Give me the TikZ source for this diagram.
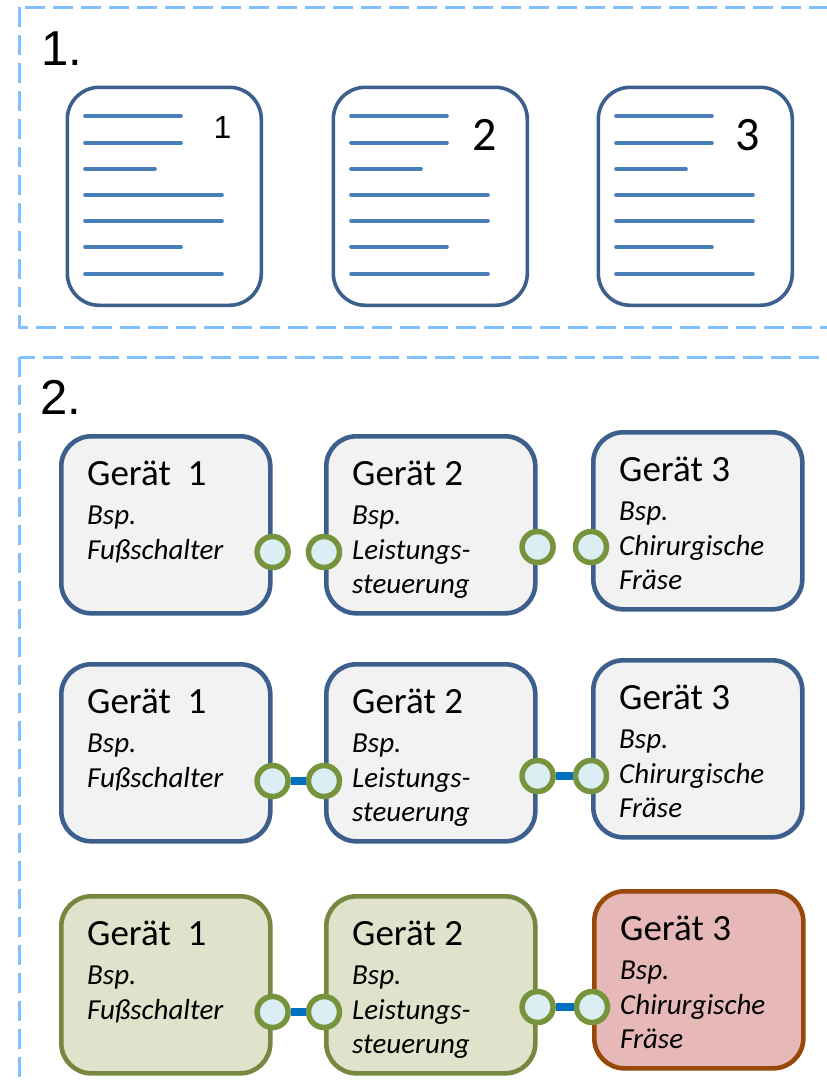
\documentclass[tikz,border=0pt]{standalone}
\usepackage{fontspec}
\setmainfont{Carlito}
\newfontfamily\headfont{Liberation Sans}

\definecolor{framedash}{RGB}{128,192,255}
\definecolor{boxblue}{RGB}{60,95,142}
\definecolor{lineblue}{RGB}{74,126,187}
\definecolor{greyfill}{RGB}{242,242,242}
\definecolor{portgreen}{RGB}{119,147,60}
\definecolor{portfill}{RGB}{218,238,243}
\definecolor{linkblue}{RGB}{0,112,192}
\definecolor{olivefill}{RGB}{224,226,203}
\definecolor{oliveline}{RGB}{118,135,63}
\definecolor{redfill}{RGB}{230,185,184}
\definecolor{redline}{RGB}{152,72,7}

\tikzset{
  frame/.style={draw=framedash, line width=3pt, dash pattern=on 20pt off 8pt},
  docbox/.style={draw=boxblue, line width=3.6pt, rounded corners=32pt, fill=white,
    minimum width=194pt, minimum height=218pt, inner sep=0pt, anchor=north west},
  docline/.style={draw=lineblue, line width=3.6pt, line cap=round},
  devbase/.style={line width=4.6pt, rounded corners=30pt,
    minimum width=209pt, minimum height=177pt, inner sep=0pt, anchor=north west},
  devgrey/.style={devbase, draw=boxblue, fill=greyfill},
  devolive/.style={devbase, draw=oliveline, fill=olivefill},
  devred/.style={devbase, draw=redline, fill=redfill},
  titletext/.style={font=\fontsize{37}{40}\selectfont, inner sep=0pt, anchor=base west},
  subtext/.style={font=\itshape\fontsize{29}{30}\selectfont, inner sep=0pt, anchor=base west},
  port/.style={circle, draw=portgreen, fill=portfill, line width=5.5pt,
    minimum size=31pt, inner sep=0pt},
  link/.style={draw=linkblue, line width=8pt},
  heading/.style={font=\headfont\fontsize{49}{52}\selectfont, inner sep=0pt, anchor=base west},
}

% device box with a title and up to three italic lines
\newcommand\device[8]{%
  \node[#4] (#1) at (#2,#3) {};
  \node[titletext] (#1-t) at ([shift={(28,51)}]#1.north west) {#5};
  \node[subtext] (#1-a) at ([shift={(28,90)}]#1.north west) {#6};
  \node[subtext] (#1-b) at ([shift={(28,125)}]#1.north west) {#7};
  \node[subtext] (#1-c) at ([shift={(28,159)}]#1.north west) {#8};
}

\begin{document}
\begin{tikzpicture}[x=1pt,y=-1pt]
\useasboundingbox (0,0) rectangle (827,1084);
\clip (0,0) rectangle (827,1084);

% the two dashed sections
\draw[frame] (19.5,7) rectangle (860,327);
\draw[frame] (19.5,357) rectangle (860,1120);

\node[heading] (h1) at (41,65) {1.};
\node[heading] (h2) at (40,414) {2.};

% section 1: three documents
\node[docbox] (d1) at (65.5,85.5) {};
\node[docbox] (d2) at (331.5,85.5) {};
\node[docbox] (d3) at (596.5,85.5) {};
\foreach \d in {d1,d2,d3} {
  \foreach \y/\len in {30.5/96, 57.5/96, 83.5/70, 109.5/137, 135.5/137, 161.5/96, 188.5/137}
    \draw[docline] ([shift={(19.5,\y)}]\d.north west) -- ++(\len,0);
}
\node[font=\headfont\fontsize{32}{34}\selectfont, inner sep=0pt, anchor=base] (n1) at (222.5,138) {1};
\node[font=\fontsize{48}{50}\selectfont, inner sep=0pt, anchor=base] (n2) at (484.5,150) {2};
\node[font=\fontsize{48}{50}\selectfont, inner sep=0pt, anchor=base] (n3) at (748,150) {3};

% section 2, row 1: separate devices
\device{r1a}{59}{434}{devgrey}{Gerät\ \ 1}{Bsp.}{Fußschalter}{}
\device{r1b}{324}{434}{devgrey}{Gerät 2}{Bsp.}{Leistungs-}{steuerung}
\device{r1c}{591}{430}{devgrey}{Gerät 3}{Bsp.}{Chirurgische}{Fräse}
\node[port] (r1p1) at (r1a.east |- 0,552) {};
\node[port] (r1p2) at (r1b.west |- 0,552) {};
\node[port] (r1p3) at (r1b.east |- 0,547) {};
\node[port] (r1p4) at (r1c.west |- 0,547) {};

% row 2: connected devices
\device{r2a}{59}{662}{devgrey}{Gerät\ \ 1}{Bsp.}{Fußschalter}{}
\device{r2b}{324}{662}{devgrey}{Gerät 2}{Bsp.}{Leistungs-}{steuerung}
\device{r2c}{591}{658}{devgrey}{Gerät 3}{Bsp.}{Chirurgische}{Fräse}
\node[port] (r2p1) at (r2a.east |- 0,781) {};
\node[port] (r2p2) at (r2b.west |- 0,781) {};
\node[port] (r2p3) at (r2b.east |- 0,776) {};
\node[port] (r2p4) at (r2c.west |- 0,776) {};
\draw[link] (r2p1) -- (r2p2);
\draw[link] (r2p3) -- (r2p4);

% row 3: connected devices with states
\device{r3a}{59}{894}{devolive}{Gerät\ \ 1}{Bsp.}{Fußschalter}{}
\device{r3b}{324}{894}{devolive}{Gerät 2}{Bsp.}{Leistungs-}{steuerung}
\device{r3c}{592}{889}{devred}{Gerät 3}{Bsp.}{Chirurgische}{Fräse}
\node[port] (r3p1) at (r3a.east |- 0,1012) {};
\node[port] (r3p2) at (r3b.west |- 0,1012) {};
\node[port] (r3p3) at (r3b.east |- 0,1007) {};
\node[port] (r3p4) at (r3c.west |- 0,1007) {};
\draw[link] (r3p1) -- (r3p2);
\draw[link] (r3p3) -- (r3p4);
\end{tikzpicture}
\end{document}
